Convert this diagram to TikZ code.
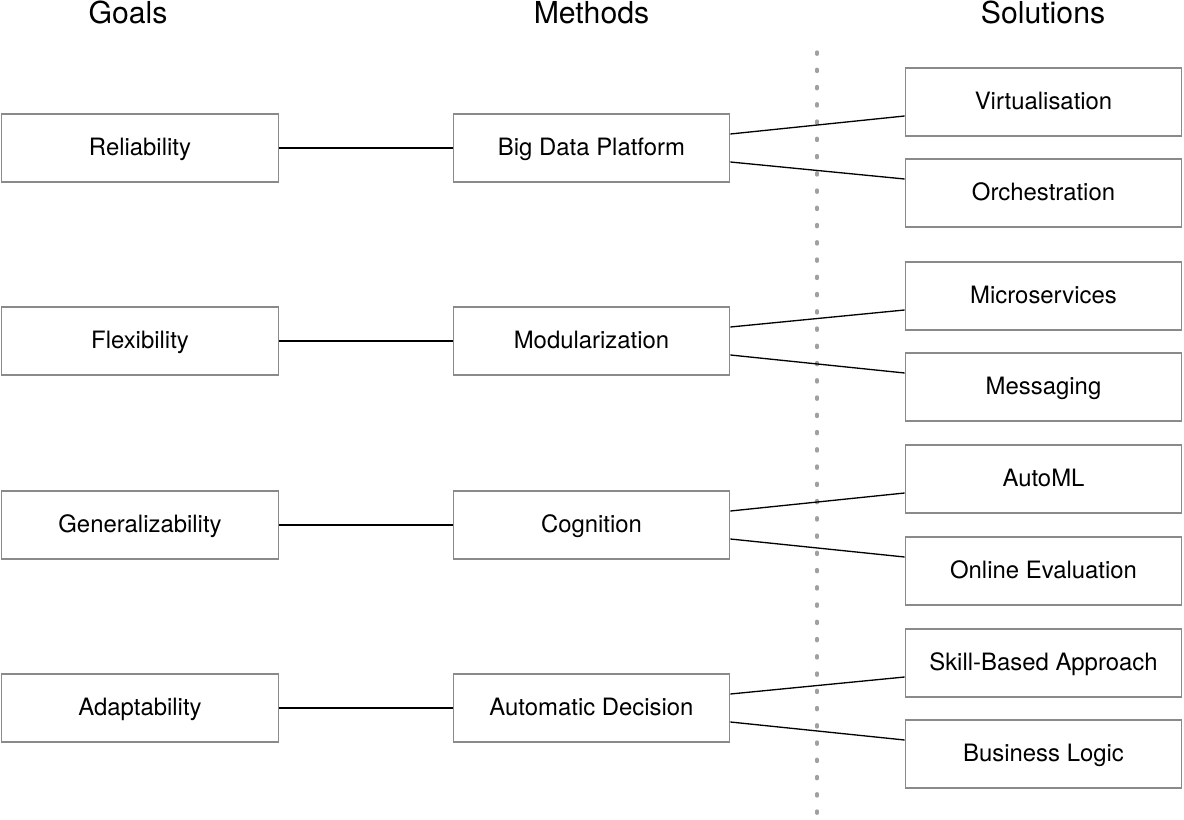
\documentclass[tikz,border=0pt]{standalone}
\usepackage{fontspec}
\setmainfont{TeX Gyre Heros}
\usetikzlibrary{positioning}
\definecolor{boxgray}{RGB}{138,138,138}
\definecolor{dotgray}{RGB}{160,160,160}
\tikzset{item/.style={draw=boxgray,line width=0.75pt,fill=white,minimum width=55.3mm,minimum height=13.6mm,inner sep=0pt,font=\fontsize{13.6}{16}\selectfont,text height=0.84em,text depth=0pt}}
\tikzset{head/.style={font=\fontsize{17.2}{20}\selectfont,anchor=base,inner sep=0pt}}
\tikzset{link/.style={line width=0.75pt,black}}
\tikzset{divider/.style={dotgray,line width=0.65mm,line cap=round,dash pattern=on 0.45mm off 3mm}}
\begin{document}
\begin{tikzpicture}[x=0.2mm,y=-0.2mm]
\useasboundingbox (0,0) rectangle (1184,820);
\node[head] (hgoals) at (128,24) {Goals};
\node[head] (hmeth) at (591.5,24) {Methods};
\node[head] (hsol) at (1043,24) {Solutions};
\draw[divider] (817,52)--(817,820);
% goals
\node[item] (rel) at (140,148) {Reliability};
\node[item] (flex) at (140,341) {Flexibility};
\node[item] (gen) at (140,525) {Generalizability};
\node[item] (adapt) at (140,708) {Adaptability};
% methods
\node[item] (bdp) at (591.5,148) {Big Data Platform};
\node[item] (mod) at (591.5,341) {Modularization};
\node[item] (cog) at (591.5,525) {Cognition};
\node[item] (auto) at (591.5,708) {Automatic Decision};
% solutions
\node[item] (virt) at (1043.5,102) {Virtualisation};
\node[item] (orch) at (1043.5,193) {Orchestration};
\node[item] (micro) at (1043.5,296) {Microservices};
\node[item] (msg) at (1043.5,387) {Messaging};
\node[item] (automl) at (1043.5,479) {AutoML};
\node[item] (eval) at (1043.5,571) {Online Evaluation};
\node[item] (skill) at (1043.5,663) {Skill-Based Approach};
\node[item] (logic) at (1043.5,754) {Business Logic};
\draw[link](rel)--(bdp);\draw[link](flex)--(mod);\draw[link](gen)--(cog);\draw[link](adapt)--(auto);
\foreach \m/\a/\b in {bdp/virt/orch,mod/micro/msg,cog/automl/eval,auto/skill/logic}{
\draw[link]([yshift=2.8mm]\m.east)--([yshift=-2.8mm]\a.west);
\draw[link]([yshift=-2.8mm]\m.east)--([yshift=2.8mm]\b.west);}
\end{tikzpicture}
\end{document}
